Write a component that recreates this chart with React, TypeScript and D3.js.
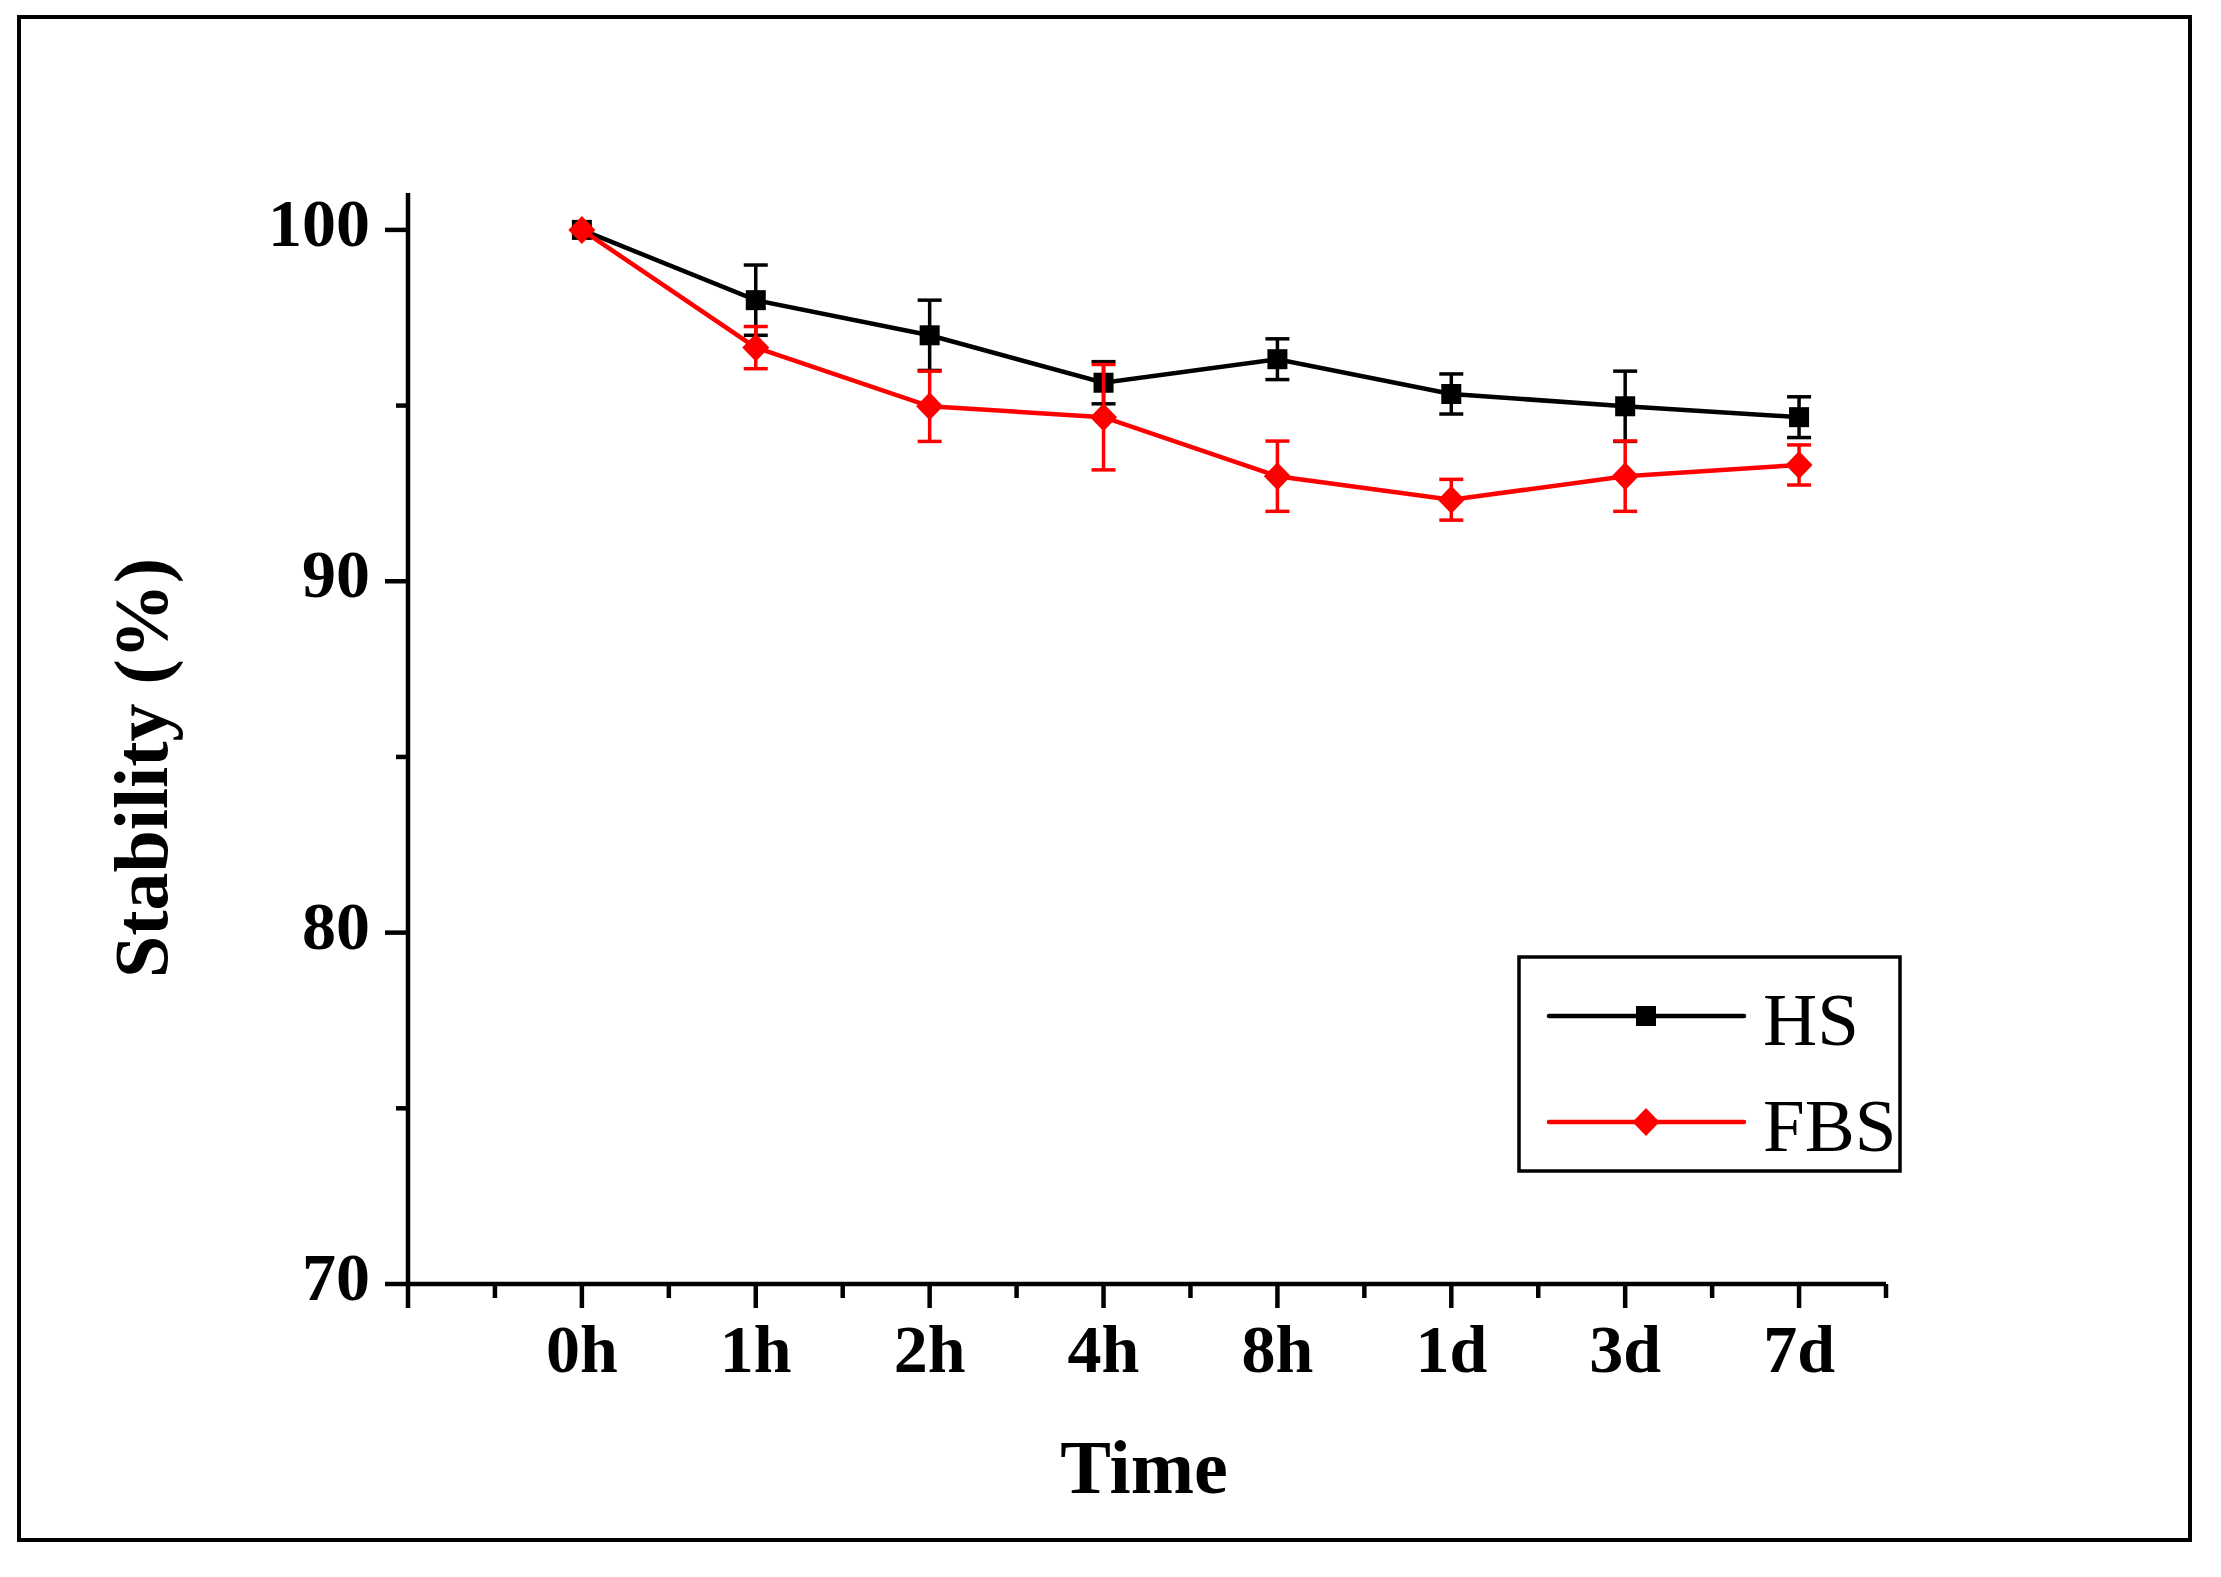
import * as d3 from 'd3';

const categories = ['0h', '1h', '2h', '4h', '8h', '1d', '3d', '7d'];
const hsMean = [100, 98.0, 97.0, 95.65, 96.32, 95.33, 94.98, 94.67];
const hsErr = [0, 1.0, 1.0, 0.6, 0.58, 0.57, 1.0, 0.58];
const fbsMean = [100, 96.65, 94.98, 94.67, 92.99, 92.32, 92.99, 93.31];
const fbsErr = [0, 0.6, 1.0, 1.5, 1.0, 0.58, 1.0, 0.57];
const yMajorTicks = [70, 80, 90, 100];
const yMinorTicks = [75, 85, 95];

const WIDTH = 2221;
const HEIGHT = 1577;
const FONT = '"Liberation Serif", "Times New Roman", serif';

type Series = {
  name: string;
  color: string;
  mean: number[];
  err: number[];
  marker: 'square' | 'diamond';
};

const series: Series[] = [
  { name: 'HS', color: '#000000', mean: hsMean, err: hsErr, marker: 'square' },
  { name: 'FBS', color: '#ff0000', mean: fbsMean, err: fbsErr, marker: 'diamond' },
];

const Marker = ({ x, y, kind, color }: { x: number; y: number; kind: string; color: string }) =>
  kind === 'square' ? (
    <rect x={x - 10} y={y - 10} width={20} height={20} fill={color} />
  ) : (
    <path d={`M${x},${y - 14}L${x + 13.5},${y}L${x},${y + 14}L${x - 13.5},${y}Z`} fill={color} />
  );

export default function App() {
  // category index -> pixel; axis runs from one step left of 0h to half a step past 7d
  const xScale = d3.scaleLinear().domain([-1, 7.5]).range([408, 1886]);
  const yScale = d3.scaleLinear().domain([70, 101.05]).range([1284, 193]);

  const [x0, x1] = xScale.range();
  const [y0, y1] = yScale.range();

  const xMajor = d3.range(-1, 8);
  const xMinor = d3.range(-0.5, 8, 1);

  const line = d3
    .line<number>()
    .x((_, i) => xScale(i))
    .y((d) => yScale(d));

  return (
    <svg
      width={WIDTH}
      height={HEIGHT}
      style={{ position: 'absolute', left: 0, top: 0, background: '#fff' }}
    >
      {/* outer frame */}
      <rect x={19} y={17} width={2171} height={1523} fill="none" stroke="#000" strokeWidth={4} />

      {/* y axis */}
      <line x1={x0} x2={x0} y1={y0 + 2} y2={y1} stroke="#000" strokeWidth={4.5} />
      {yMajorTicks.map((t) => (
        <g key={`ym${t}`}>
          <line x1={x0 - 23} x2={x0} y1={yScale(t)} y2={yScale(t)} stroke="#000" strokeWidth={4.5} />
          <text
            x={x0 - 38}
            y={yScale(t) + 16}
            textAnchor="end"
            fontFamily={FONT}
            fontWeight="bold"
            fontSize={68}
          >
            {t}
          </text>
        </g>
      ))}
      {yMinorTicks.map((t) => (
        <line key={`yn${t}`} x1={x0 - 12} x2={x0} y1={yScale(t)} y2={yScale(t)} stroke="#000" strokeWidth={4.5} />
      ))}

      {/* x axis */}
      <line x1={x0 - 2} x2={x1} y1={y0} y2={y0} stroke="#000" strokeWidth={4.5} />
      {xMajor.map((t) => (
        <line key={`xm${t}`} x1={xScale(t)} x2={xScale(t)} y1={y0} y2={y0 + 24} stroke="#000" strokeWidth={4.5} />
      ))}
      {xMinor.map((t) => (
        <line key={`xn${t}`} x1={xScale(t)} x2={xScale(t)} y1={y0} y2={y0 + 14} stroke="#000" strokeWidth={4.5} />
      ))}
      {categories.map((c, i) => (
        <text
          key={c}
          x={xScale(i)}
          y={1372}
          textAnchor="middle"
          fontFamily={FONT}
          fontWeight="bold"
          fontSize={68}
        >
          {c}
        </text>
      ))}

      {/* axis titles */}
      <text x={1144} y={1493} textAnchor="middle" fontFamily={FONT} fontWeight="bold" fontSize={76}>
        Time
      </text>
      <text
        transform="translate(167,768) rotate(-90)"
        textAnchor="middle"
        fontFamily={FONT}
        fontWeight="bold"
        fontSize={76}
      >
        Stability (%)
      </text>

      {/* series */}
      {series.map((s) => (
        <g key={s.name}>
          <path d={line(s.mean) ?? ''} fill="none" stroke={s.color} strokeWidth={4.5} />
          {s.mean.map((m, i) =>
            s.err[i] > 0 ? (
              <g key={i} stroke={s.color} strokeWidth={3.5}>
                <line x1={xScale(i)} x2={xScale(i)} y1={yScale(m - s.err[i])} y2={yScale(m + s.err[i])} />
                <line x1={xScale(i) - 12} x2={xScale(i) + 12} y1={yScale(m + s.err[i])} y2={yScale(m + s.err[i])} />
                <line x1={xScale(i) - 12} x2={xScale(i) + 12} y1={yScale(m - s.err[i])} y2={yScale(m - s.err[i])} />
              </g>
            ) : null
          )}
          {s.mean.map((m, i) => (
            <Marker key={`mk${i}`} x={xScale(i)} y={yScale(m)} kind={s.marker} color={s.color} />
          ))}
        </g>
      ))}

      {/* legend */}
      <rect x={1519} y={957} width={381} height={214} fill="#fff" stroke="#000" strokeWidth={3.5} />
      {series.map((s, i) => {
        const ly = 1016 + i * 106;
        return (
          <g key={`lg${s.name}`}>
            <line x1={1549} x2={1744} y1={ly} y2={ly} stroke={s.color} strokeWidth={4.5} strokeLinecap="round" />
            <Marker x={1646} y={ly} kind={s.marker} color={s.color} />
            <text x={1763} y={ly + 29} fontFamily={FONT} fontSize={75}>
              {s.name}
            </text>
          </g>
        );
      })}
    </svg>
  );
}
